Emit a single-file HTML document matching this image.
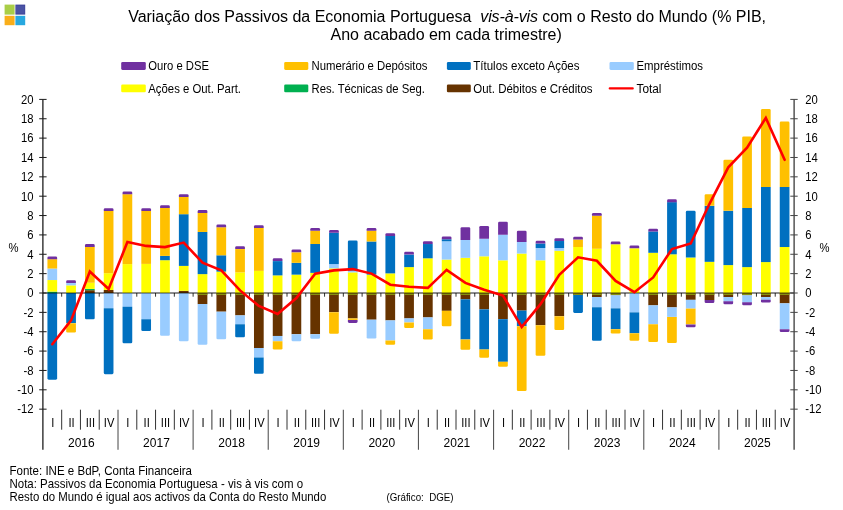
<!DOCTYPE html>
<html lang="pt"><head><meta charset="utf-8"><title>Variação dos Passivos da Economia Portuguesa</title>
<style>
html,body{margin:0;padding:0;background:#fff}
body{width:843px;height:510px;overflow:hidden}
svg{display:block}
text{font-family:"Liberation Sans",Arial,sans-serif;fill:#000}
.t{font-size:16px}
.l{font-size:12.3px}
.a{font-size:12px}
.f{font-size:12.1px}
.g{font-size:10px}
</style></head><body>
<svg width="843" height="510" viewBox="0 0 843 510">
<rect width="843" height="510" fill="#fff"/>
<g><rect x="4.6" y="4.6" width="10" height="10" fill="#A9CE47"/><rect x="15.4" y="4.6" width="9.8" height="10" fill="#3D4199"/><rect x="16" y="5.6" width="8.6" height="8" fill="#4A53A4"/><rect x="4.6" y="15.8" width="10" height="9.4" fill="#F9AE1A"/><rect x="15.4" y="15.8" width="9.8" height="9.4" fill="#27A8E0"/></g>
<text class="t" y="21.7"><tspan x="128.2" textLength="343.2" lengthAdjust="spacing">Variação dos Passivos da Economia Portuguesa</tspan> <tspan x="480.3" font-style="italic" textLength="57.7" lengthAdjust="spacing">vis-à-vis</tspan> <tspan x="542.2" textLength="223.8" lengthAdjust="spacing">com o Resto do Mundo (% PIB,</tspan></text>
<text class="t" x="330.6" y="40.1" textLength="231.2" lengthAdjust="spacing">Ano acabado em cada trimestre)</text>
<rect x="121.2" y="62.1" width="24.6" height="7.8" rx="1.3" fill="#7030A0"/>
<text class="l" x="148.3" y="70.2" textLength="60.7" lengthAdjust="spacingAndGlyphs">Ouro e DSE</text>
<rect x="284.2" y="62.1" width="24.1" height="7.8" rx="1.3" fill="#FFC000"/>
<text class="l" x="311.5" y="70.2" textLength="116.0" lengthAdjust="spacingAndGlyphs">Numerário e Depósitos</text>
<rect x="446.9" y="62.1" width="23.9" height="7.8" rx="1.3" fill="#0070C0"/>
<text class="l" x="473.3" y="70.2" textLength="106.2" lengthAdjust="spacingAndGlyphs">Títulos exceto Ações</text>
<rect x="609.5" y="62.1" width="24.3" height="7.8" rx="1.3" fill="#99CCFF"/>
<text class="l" x="636.5" y="70.2" textLength="66.5" lengthAdjust="spacingAndGlyphs">Empréstimos</text>
<rect x="121.2" y="84.4" width="24.6" height="7.8" rx="1.3" fill="#FFFF00"/>
<text class="l" x="148.3" y="92.5" textLength="92.7" lengthAdjust="spacingAndGlyphs">Ações e Out. Part.</text>
<rect x="284.2" y="84.4" width="24.1" height="7.8" rx="1.3" fill="#00B050"/>
<text class="l" x="311.5" y="92.5" textLength="113.5" lengthAdjust="spacingAndGlyphs">Res. Técnicas de Seg.</text>
<rect x="446.9" y="84.4" width="23.9" height="7.8" rx="1.3" fill="#663300"/>
<text class="l" x="473.3" y="92.5" textLength="119.2" lengthAdjust="spacingAndGlyphs">Out. Débitos e Créditos</text>
<line x1="609.8" y1="88.4" x2="632.7" y2="88.4" stroke="#FF0000" stroke-width="2.3" stroke-linecap="round"/>
<text class="l" x="636.5" y="92.5" textLength="25" lengthAdjust="spacingAndGlyphs">Total</text>
<line x1="42.9" y1="293.0" x2="794.0" y2="293.0" stroke="#000" stroke-opacity="0.6" stroke-width="1.5"/>
<line x1="61.68" y1="293.0" x2="61.68" y2="296.7" stroke="#000" stroke-width="0.8"/>
<line x1="80.45" y1="293.0" x2="80.45" y2="296.7" stroke="#000" stroke-width="0.8"/>
<line x1="99.23" y1="293.0" x2="99.23" y2="296.7" stroke="#000" stroke-width="0.8"/>
<line x1="118.01" y1="293.0" x2="118.01" y2="296.7" stroke="#000" stroke-width="0.8"/>
<line x1="136.79" y1="293.0" x2="136.79" y2="296.7" stroke="#000" stroke-width="0.8"/>
<line x1="155.56" y1="293.0" x2="155.56" y2="296.7" stroke="#000" stroke-width="0.8"/>
<line x1="174.34" y1="293.0" x2="174.34" y2="296.7" stroke="#000" stroke-width="0.8"/>
<line x1="193.12" y1="293.0" x2="193.12" y2="296.7" stroke="#000" stroke-width="0.8"/>
<line x1="211.90" y1="293.0" x2="211.90" y2="296.7" stroke="#000" stroke-width="0.8"/>
<line x1="230.68" y1="293.0" x2="230.68" y2="296.7" stroke="#000" stroke-width="0.8"/>
<line x1="249.45" y1="293.0" x2="249.45" y2="296.7" stroke="#000" stroke-width="0.8"/>
<line x1="268.23" y1="293.0" x2="268.23" y2="296.7" stroke="#000" stroke-width="0.8"/>
<line x1="287.01" y1="293.0" x2="287.01" y2="296.7" stroke="#000" stroke-width="0.8"/>
<line x1="305.78" y1="293.0" x2="305.78" y2="296.7" stroke="#000" stroke-width="0.8"/>
<line x1="324.56" y1="293.0" x2="324.56" y2="296.7" stroke="#000" stroke-width="0.8"/>
<line x1="343.34" y1="293.0" x2="343.34" y2="296.7" stroke="#000" stroke-width="0.8"/>
<line x1="362.12" y1="293.0" x2="362.12" y2="296.7" stroke="#000" stroke-width="0.8"/>
<line x1="380.89" y1="293.0" x2="380.89" y2="296.7" stroke="#000" stroke-width="0.8"/>
<line x1="399.67" y1="293.0" x2="399.67" y2="296.7" stroke="#000" stroke-width="0.8"/>
<line x1="418.45" y1="293.0" x2="418.45" y2="296.7" stroke="#000" stroke-width="0.8"/>
<line x1="437.23" y1="293.0" x2="437.23" y2="296.7" stroke="#000" stroke-width="0.8"/>
<line x1="456.00" y1="293.0" x2="456.00" y2="296.7" stroke="#000" stroke-width="0.8"/>
<line x1="474.78" y1="293.0" x2="474.78" y2="296.7" stroke="#000" stroke-width="0.8"/>
<line x1="493.56" y1="293.0" x2="493.56" y2="296.7" stroke="#000" stroke-width="0.8"/>
<line x1="512.34" y1="293.0" x2="512.34" y2="296.7" stroke="#000" stroke-width="0.8"/>
<line x1="531.12" y1="293.0" x2="531.12" y2="296.7" stroke="#000" stroke-width="0.8"/>
<line x1="549.89" y1="293.0" x2="549.89" y2="296.7" stroke="#000" stroke-width="0.8"/>
<line x1="568.67" y1="293.0" x2="568.67" y2="296.7" stroke="#000" stroke-width="0.8"/>
<line x1="587.45" y1="293.0" x2="587.45" y2="296.7" stroke="#000" stroke-width="0.8"/>
<line x1="606.23" y1="293.0" x2="606.23" y2="296.7" stroke="#000" stroke-width="0.8"/>
<line x1="625.00" y1="293.0" x2="625.00" y2="296.7" stroke="#000" stroke-width="0.8"/>
<line x1="643.78" y1="293.0" x2="643.78" y2="296.7" stroke="#000" stroke-width="0.8"/>
<line x1="662.56" y1="293.0" x2="662.56" y2="296.7" stroke="#000" stroke-width="0.8"/>
<line x1="681.33" y1="293.0" x2="681.33" y2="296.7" stroke="#000" stroke-width="0.8"/>
<line x1="700.11" y1="293.0" x2="700.11" y2="296.7" stroke="#000" stroke-width="0.8"/>
<line x1="718.89" y1="293.0" x2="718.89" y2="296.7" stroke="#000" stroke-width="0.8"/>
<line x1="737.67" y1="293.0" x2="737.67" y2="296.7" stroke="#000" stroke-width="0.8"/>
<line x1="756.44" y1="293.0" x2="756.44" y2="296.7" stroke="#000" stroke-width="0.8"/>
<line x1="775.22" y1="293.0" x2="775.22" y2="296.7" stroke="#000" stroke-width="0.8"/>
<g>
<rect x="47.44" y="291.60" width="9.7" height="1.40" fill="#00B050"/>
<rect x="47.44" y="280.04" width="9.7" height="11.56" fill="#FFFF00"/>
<rect x="47.44" y="268.55" width="9.7" height="11.50" fill="#99CCFF"/>
<rect x="47.44" y="259.20" width="9.7" height="9.35" fill="#FFC000"/>
<path d="M47.44 259.20V257.70Q47.44 256.40 48.74 256.40H55.84Q57.14 256.40 57.14 257.70V259.20Z" fill="#7030A0"/>
<path d="M47.44 293.00V378.35Q47.44 379.65 48.74 379.65H55.84Q57.14 379.65 57.14 378.35V293.00Z" fill="#0070C0"/>
<rect x="47.44" y="292.20" width="9.7" height="1.6" fill="#000" fill-opacity="0.42"/>
<rect x="66.22" y="285.36" width="9.7" height="7.64" fill="#FFFF00"/>
<rect x="66.22" y="283.04" width="9.7" height="2.32" fill="#99CCFF"/>
<path d="M66.22 283.04V281.54Q66.22 280.24 67.52 280.24H74.62Q75.92 280.24 75.92 281.54V283.04Z" fill="#7030A0"/>
<rect x="66.22" y="293.00" width="9.7" height="30.15" fill="#0070C0"/>
<path d="M66.22 323.15V331.15Q66.22 332.45 67.52 332.45H74.62Q75.92 332.45 75.92 331.15V323.15Z" fill="#FFC000"/>
<rect x="66.22" y="292.20" width="9.7" height="1.6" fill="#000" fill-opacity="0.42"/>
<rect x="84.99" y="290.20" width="9.7" height="2.80" fill="#663300"/>
<rect x="84.99" y="288.90" width="9.7" height="1.30" fill="#00B050"/>
<rect x="84.99" y="282.75" width="9.7" height="6.15" fill="#FFFF00"/>
<rect x="84.99" y="246.90" width="9.7" height="35.85" fill="#FFC000"/>
<path d="M84.99 246.90V245.40Q84.99 244.10 86.29 244.10H93.39Q94.69 244.10 94.69 245.40V246.90Z" fill="#7030A0"/>
<path d="M84.99 293.00V318.05Q84.99 319.35 86.29 319.35H93.39Q94.69 319.35 94.69 318.05V293.00Z" fill="#0070C0"/>
<rect x="84.99" y="292.20" width="9.7" height="1.6" fill="#000" fill-opacity="0.42"/>
<rect x="103.77" y="290.00" width="9.7" height="3.00" fill="#663300"/>
<rect x="103.77" y="273.20" width="9.7" height="16.80" fill="#FFFF00"/>
<rect x="103.77" y="211.00" width="9.7" height="62.20" fill="#FFC000"/>
<path d="M103.77 211.00V209.50Q103.77 208.20 105.07 208.20H112.17Q113.47 208.20 113.47 209.50V211.00Z" fill="#7030A0"/>
<rect x="103.77" y="293.00" width="9.7" height="15.15" fill="#99CCFF"/>
<path d="M103.77 308.15V372.85Q103.77 374.15 105.07 374.15H112.17Q113.47 374.15 113.47 372.85V308.15Z" fill="#0070C0"/>
<rect x="103.77" y="292.20" width="9.7" height="1.6" fill="#000" fill-opacity="0.42"/>
<rect x="122.55" y="264.10" width="9.7" height="28.90" fill="#FFFF00"/>
<rect x="122.55" y="194.20" width="9.7" height="69.90" fill="#FFC000"/>
<path d="M122.55 194.20V192.70Q122.55 191.40 123.85 191.40H130.95Q132.25 191.40 132.25 192.70V194.20Z" fill="#7030A0"/>
<rect x="122.55" y="293.00" width="9.7" height="13.85" fill="#99CCFF"/>
<path d="M122.55 306.85V341.95Q122.55 343.25 123.85 343.25H130.95Q132.25 343.25 132.25 341.95V306.85Z" fill="#0070C0"/>
<rect x="122.55" y="292.20" width="9.7" height="1.6" fill="#000" fill-opacity="0.42"/>
<rect x="141.33" y="263.90" width="9.7" height="29.10" fill="#FFFF00"/>
<rect x="141.33" y="211.00" width="9.7" height="52.90" fill="#FFC000"/>
<path d="M141.33 211.00V209.50Q141.33 208.20 142.63 208.20H149.73Q151.03 208.20 151.03 209.50V211.00Z" fill="#7030A0"/>
<rect x="141.33" y="293.00" width="9.7" height="26.35" fill="#99CCFF"/>
<path d="M141.33 319.35V329.65Q141.33 330.95 142.63 330.95H149.73Q151.03 330.95 151.03 329.65V319.35Z" fill="#0070C0"/>
<rect x="141.33" y="292.20" width="9.7" height="1.6" fill="#000" fill-opacity="0.42"/>
<rect x="160.10" y="260.20" width="9.7" height="32.80" fill="#FFFF00"/>
<rect x="160.10" y="255.90" width="9.7" height="4.30" fill="#0070C0"/>
<rect x="160.10" y="208.00" width="9.7" height="47.90" fill="#FFC000"/>
<path d="M160.10 208.00V206.50Q160.10 205.20 161.40 205.20H168.50Q169.80 205.20 169.80 206.50V208.00Z" fill="#7030A0"/>
<path d="M160.10 293.00V334.45Q160.10 335.75 161.40 335.75H168.50Q169.80 335.75 169.80 334.45V293.00Z" fill="#99CCFF"/>
<rect x="160.10" y="292.20" width="9.7" height="1.6" fill="#000" fill-opacity="0.42"/>
<rect x="178.88" y="290.80" width="9.7" height="2.20" fill="#663300"/>
<rect x="178.88" y="265.90" width="9.7" height="24.90" fill="#FFFF00"/>
<rect x="178.88" y="214.20" width="9.7" height="51.70" fill="#0070C0"/>
<rect x="178.88" y="197.00" width="9.7" height="17.20" fill="#FFC000"/>
<path d="M178.88 197.00V195.50Q178.88 194.20 180.18 194.20H187.28Q188.58 194.20 188.58 195.50V197.00Z" fill="#7030A0"/>
<path d="M178.88 293.00V339.95Q178.88 341.25 180.18 341.25H187.28Q188.58 341.25 188.58 339.95V293.00Z" fill="#99CCFF"/>
<rect x="178.88" y="292.20" width="9.7" height="1.6" fill="#000" fill-opacity="0.42"/>
<rect x="197.66" y="274.13" width="9.7" height="18.87" fill="#FFFF00"/>
<rect x="197.66" y="231.96" width="9.7" height="42.17" fill="#0070C0"/>
<rect x="197.66" y="212.92" width="9.7" height="19.04" fill="#FFC000"/>
<path d="M197.66 212.92V211.42Q197.66 210.12 198.96 210.12H206.06Q207.36 210.12 207.36 211.42V212.92Z" fill="#7030A0"/>
<rect x="197.66" y="293.00" width="9.7" height="11.10" fill="#663300"/>
<path d="M197.66 304.10V343.46Q197.66 344.76 198.96 344.76H206.06Q207.36 344.76 207.36 343.46V304.10Z" fill="#99CCFF"/>
<rect x="197.66" y="292.20" width="9.7" height="1.6" fill="#000" fill-opacity="0.42"/>
<rect x="197.66" y="293.60" width="9.7" height="1.3" fill="#8A9C12"/>
<rect x="216.44" y="271.62" width="9.7" height="21.38" fill="#FFFF00"/>
<rect x="216.44" y="255.30" width="9.7" height="16.32" fill="#0070C0"/>
<rect x="216.44" y="227.23" width="9.7" height="28.07" fill="#FFC000"/>
<path d="M216.44 227.23V225.73Q216.44 224.43 217.74 224.43H224.84Q226.14 224.43 226.14 225.73V227.23Z" fill="#7030A0"/>
<rect x="216.44" y="293.00" width="9.7" height="18.63" fill="#663300"/>
<path d="M216.44 311.63V337.94Q216.44 339.24 217.74 339.24H224.84Q226.14 339.24 226.14 337.94V311.63Z" fill="#99CCFF"/>
<rect x="216.44" y="292.20" width="9.7" height="1.6" fill="#000" fill-opacity="0.42"/>
<rect x="216.44" y="293.60" width="9.7" height="1.3" fill="#8A9C12"/>
<rect x="235.21" y="272.37" width="9.7" height="20.63" fill="#FFFF00"/>
<rect x="235.21" y="249.07" width="9.7" height="23.30" fill="#FFC000"/>
<path d="M235.21 249.07V247.57Q235.21 246.27 236.51 246.27H243.61Q244.91 246.27 244.91 247.57V249.07Z" fill="#7030A0"/>
<rect x="235.21" y="293.00" width="9.7" height="22.39" fill="#663300"/>
<rect x="235.21" y="315.39" width="9.7" height="8.79" fill="#99CCFF"/>
<path d="M235.21 324.18V335.93Q235.21 337.23 236.51 337.23H243.61Q244.91 337.23 244.91 335.93V324.18Z" fill="#0070C0"/>
<rect x="235.21" y="292.20" width="9.7" height="1.6" fill="#000" fill-opacity="0.42"/>
<rect x="235.21" y="293.60" width="9.7" height="1.3" fill="#8A9C12"/>
<rect x="253.99" y="270.86" width="9.7" height="22.14" fill="#FFFF00"/>
<rect x="253.99" y="227.98" width="9.7" height="42.88" fill="#FFC000"/>
<path d="M253.99 227.98V226.48Q253.99 225.18 255.29 225.18H262.39Q263.69 225.18 263.69 226.48V227.98Z" fill="#7030A0"/>
<rect x="253.99" y="293.00" width="9.7" height="55.02" fill="#663300"/>
<rect x="253.99" y="348.02" width="9.7" height="9.54" fill="#99CCFF"/>
<path d="M253.99 357.56V372.57Q253.99 373.87 255.29 373.87H262.39Q263.69 373.87 263.69 372.57V357.56Z" fill="#0070C0"/>
<rect x="253.99" y="292.20" width="9.7" height="1.6" fill="#000" fill-opacity="0.42"/>
<rect x="253.99" y="293.60" width="9.7" height="1.3" fill="#8A9C12"/>
<rect x="272.77" y="275.38" width="9.7" height="17.62" fill="#FFFF00"/>
<rect x="272.77" y="261.11" width="9.7" height="14.27" fill="#0070C0"/>
<path d="M272.77 261.11V259.61Q272.77 258.31 274.07 258.31H281.17Q282.47 258.31 282.47 259.61V261.11Z" fill="#7030A0"/>
<rect x="272.77" y="293.00" width="9.7" height="42.97" fill="#663300"/>
<rect x="272.77" y="335.97" width="9.7" height="5.27" fill="#99CCFF"/>
<path d="M272.77 341.24V348.23Q272.77 349.53 274.07 349.53H281.17Q282.47 349.53 282.47 348.23V341.24Z" fill="#FFC000"/>
<rect x="272.77" y="292.20" width="9.7" height="1.6" fill="#000" fill-opacity="0.42"/>
<rect x="272.77" y="293.60" width="9.7" height="1.3" fill="#8A9C12"/>
<rect x="291.55" y="274.63" width="9.7" height="18.37" fill="#FFFF00"/>
<rect x="291.55" y="262.83" width="9.7" height="11.80" fill="#0070C0"/>
<rect x="291.55" y="252.33" width="9.7" height="10.50" fill="#FFC000"/>
<path d="M291.55 252.33V250.83Q291.55 249.53 292.85 249.53H299.95Q301.25 249.53 301.25 250.83V252.33Z" fill="#7030A0"/>
<rect x="291.55" y="293.00" width="9.7" height="41.22" fill="#663300"/>
<path d="M291.55 334.22V339.94Q291.55 341.24 292.85 341.24H299.95Q301.25 341.24 301.25 339.94V334.22Z" fill="#99CCFF"/>
<rect x="291.55" y="292.20" width="9.7" height="1.6" fill="#000" fill-opacity="0.42"/>
<rect x="291.55" y="293.60" width="9.7" height="1.3" fill="#8A9C12"/>
<rect x="310.32" y="272.87" width="9.7" height="20.13" fill="#FFFF00"/>
<rect x="310.32" y="244.01" width="9.7" height="28.87" fill="#0070C0"/>
<rect x="310.32" y="230.74" width="9.7" height="13.26" fill="#FFC000"/>
<path d="M310.32 230.74V229.24Q310.32 227.94 311.62 227.94H318.72Q320.02 227.94 320.02 229.24V230.74Z" fill="#7030A0"/>
<rect x="310.32" y="293.00" width="9.7" height="41.22" fill="#663300"/>
<path d="M310.32 334.22V337.43Q310.32 338.73 311.62 338.73H318.72Q320.02 338.73 320.02 337.43V334.22Z" fill="#99CCFF"/>
<rect x="310.32" y="292.20" width="9.7" height="1.6" fill="#000" fill-opacity="0.42"/>
<rect x="310.32" y="293.60" width="9.7" height="1.3" fill="#8A9C12"/>
<rect x="329.10" y="268.35" width="9.7" height="24.65" fill="#FFFF00"/>
<rect x="329.10" y="264.09" width="9.7" height="4.27" fill="#99CCFF"/>
<rect x="329.10" y="232.75" width="9.7" height="31.34" fill="#0070C0"/>
<path d="M329.10 232.75V231.25Q329.10 229.95 330.40 229.95H337.50Q338.80 229.95 338.80 231.25V232.75Z" fill="#7030A0"/>
<rect x="329.10" y="293.00" width="9.7" height="19.13" fill="#663300"/>
<path d="M329.10 312.13V332.41Q329.10 333.71 330.40 333.71H337.50Q338.80 333.71 338.80 332.41V312.13Z" fill="#FFC000"/>
<rect x="329.10" y="292.20" width="9.7" height="1.6" fill="#000" fill-opacity="0.42"/>
<rect x="329.10" y="293.60" width="9.7" height="1.3" fill="#8A9C12"/>
<rect x="347.88" y="272.37" width="9.7" height="20.63" fill="#FFFF00"/>
<rect x="347.88" y="270.86" width="9.7" height="1.51" fill="#99CCFF"/>
<path d="M347.88 270.86V241.79Q347.88 240.49 349.18 240.49H356.28Q357.58 240.49 357.58 241.79V270.86Z" fill="#0070C0"/>
<rect x="347.88" y="293.00" width="9.7" height="25.40" fill="#663300"/>
<rect x="347.88" y="318.40" width="9.7" height="1.51" fill="#FFC000"/>
<path d="M347.88 319.91V321.62Q347.88 322.92 349.18 322.92H356.28Q357.58 322.92 357.58 321.62V319.91Z" fill="#7030A0"/>
<rect x="347.88" y="292.20" width="9.7" height="1.6" fill="#000" fill-opacity="0.42"/>
<rect x="347.88" y="293.60" width="9.7" height="1.3" fill="#8A9C12"/>
<rect x="366.66" y="274.63" width="9.7" height="18.37" fill="#FFFF00"/>
<rect x="366.66" y="241.50" width="9.7" height="33.13" fill="#0070C0"/>
<rect x="366.66" y="230.74" width="9.7" height="10.75" fill="#FFC000"/>
<path d="M366.66 230.74V229.24Q366.66 227.94 367.96 227.94H375.06Q376.36 227.94 376.36 229.24V230.74Z" fill="#7030A0"/>
<rect x="366.66" y="293.00" width="9.7" height="26.66" fill="#663300"/>
<path d="M366.66 319.66V337.18Q366.66 338.48 367.96 338.48H375.06Q376.36 338.48 376.36 337.18V319.66Z" fill="#99CCFF"/>
<rect x="366.66" y="292.20" width="9.7" height="1.6" fill="#000" fill-opacity="0.42"/>
<rect x="366.66" y="293.60" width="9.7" height="1.3" fill="#8A9C12"/>
<rect x="385.43" y="273.37" width="9.7" height="19.63" fill="#FFFF00"/>
<rect x="385.43" y="236.01" width="9.7" height="37.36" fill="#0070C0"/>
<path d="M385.43 236.01V234.51Q385.43 233.21 386.73 233.21H393.83Q395.13 233.21 395.13 234.51V236.01Z" fill="#7030A0"/>
<rect x="385.43" y="293.00" width="9.7" height="27.41" fill="#663300"/>
<rect x="385.43" y="320.41" width="9.7" height="20.08" fill="#99CCFF"/>
<path d="M385.43 340.49V343.46Q385.43 344.76 386.73 344.76H393.83Q395.13 344.76 395.13 343.46V340.49Z" fill="#FFC000"/>
<rect x="385.43" y="292.20" width="9.7" height="1.6" fill="#000" fill-opacity="0.42"/>
<rect x="385.43" y="293.60" width="9.7" height="1.3" fill="#8A9C12"/>
<rect x="404.21" y="267.10" width="9.7" height="25.90" fill="#FFFF00"/>
<rect x="404.21" y="254.59" width="9.7" height="12.51" fill="#0070C0"/>
<path d="M404.21 254.59V253.09Q404.21 251.79 405.51 251.79H412.61Q413.91 251.79 413.91 253.09V254.59Z" fill="#7030A0"/>
<rect x="404.21" y="293.00" width="9.7" height="25.40" fill="#663300"/>
<rect x="404.21" y="318.40" width="9.7" height="4.02" fill="#99CCFF"/>
<path d="M404.21 322.42V326.64Q404.21 327.94 405.51 327.94H412.61Q413.91 327.94 413.91 326.64V322.42Z" fill="#FFC000"/>
<rect x="404.21" y="292.20" width="9.7" height="1.6" fill="#000" fill-opacity="0.42"/>
<rect x="404.21" y="293.60" width="9.7" height="1.3" fill="#8A9C12"/>
<rect x="422.99" y="258.31" width="9.7" height="34.69" fill="#FFFF00"/>
<rect x="422.99" y="244.04" width="9.7" height="14.27" fill="#0070C0"/>
<path d="M422.99 244.04V242.54Q422.99 241.24 424.29 241.24H431.39Q432.69 241.24 432.69 242.54V244.04Z" fill="#7030A0"/>
<rect x="422.99" y="293.00" width="9.7" height="24.40" fill="#663300"/>
<rect x="422.99" y="317.40" width="9.7" height="11.80" fill="#99CCFF"/>
<path d="M422.99 329.20V338.19Q422.99 339.49 424.29 339.49H431.39Q432.69 339.49 432.69 338.19V329.20Z" fill="#FFC000"/>
<rect x="422.99" y="292.20" width="9.7" height="1.6" fill="#000" fill-opacity="0.42"/>
<rect x="422.99" y="293.60" width="9.7" height="1.3" fill="#8A9C12"/>
<rect x="441.77" y="259.57" width="9.7" height="33.43" fill="#FFFF00"/>
<rect x="441.77" y="241.24" width="9.7" height="18.32" fill="#99CCFF"/>
<rect x="441.77" y="239.28" width="9.7" height="1.97" fill="#0070C0"/>
<path d="M441.77 239.28V237.78Q441.77 236.48 443.07 236.48H450.17Q451.47 236.48 451.47 237.78V239.28Z" fill="#7030A0"/>
<rect x="441.77" y="293.00" width="9.7" height="17.87" fill="#663300"/>
<path d="M441.77 310.87V324.88Q441.77 326.18 443.07 326.18H450.17Q451.47 326.18 451.47 324.88V310.87Z" fill="#FFC000"/>
<rect x="441.77" y="292.20" width="9.7" height="1.6" fill="#000" fill-opacity="0.42"/>
<rect x="441.77" y="293.60" width="9.7" height="1.3" fill="#8A9C12"/>
<rect x="460.54" y="257.81" width="9.7" height="35.19" fill="#FFFF00"/>
<rect x="460.54" y="239.99" width="9.7" height="17.82" fill="#99CCFF"/>
<path d="M460.54 239.99V228.49Q460.54 227.19 461.84 227.19H468.94Q470.24 227.19 470.24 228.49V239.99Z" fill="#7030A0"/>
<rect x="460.54" y="293.00" width="9.7" height="6.33" fill="#663300"/>
<rect x="460.54" y="299.33" width="9.7" height="40.16" fill="#0070C0"/>
<path d="M460.54 339.49V348.48Q460.54 349.78 461.84 349.78H468.94Q470.24 349.78 470.24 348.48V339.49Z" fill="#FFC000"/>
<rect x="460.54" y="292.20" width="9.7" height="1.6" fill="#000" fill-opacity="0.42"/>
<rect x="460.54" y="293.60" width="9.7" height="1.3" fill="#8A9C12"/>
<rect x="479.32" y="256.31" width="9.7" height="36.69" fill="#FFFF00"/>
<rect x="479.32" y="238.73" width="9.7" height="17.57" fill="#99CCFF"/>
<path d="M479.32 238.73V227.23Q479.32 225.93 480.62 225.93H487.72Q489.02 225.93 489.02 227.23V238.73Z" fill="#7030A0"/>
<rect x="479.32" y="293.00" width="9.7" height="16.37" fill="#663300"/>
<rect x="479.32" y="309.37" width="9.7" height="40.16" fill="#0070C0"/>
<path d="M479.32 349.53V356.51Q479.32 357.81 480.62 357.81H487.72Q489.02 357.81 489.02 356.51V349.53Z" fill="#FFC000"/>
<rect x="479.32" y="292.20" width="9.7" height="1.6" fill="#000" fill-opacity="0.42"/>
<rect x="479.32" y="293.60" width="9.7" height="1.3" fill="#8A9C12"/>
<rect x="498.10" y="260.32" width="9.7" height="32.68" fill="#FFFF00"/>
<rect x="498.10" y="234.72" width="9.7" height="25.60" fill="#99CCFF"/>
<path d="M498.10 234.72V222.97Q498.10 221.67 499.40 221.67H506.50Q507.80 221.67 507.80 222.97V234.72Z" fill="#7030A0"/>
<rect x="498.10" y="293.00" width="9.7" height="26.16" fill="#663300"/>
<rect x="498.10" y="319.16" width="9.7" height="42.67" fill="#0070C0"/>
<path d="M498.10 361.83V365.55Q498.10 366.85 499.40 366.85H506.50Q507.80 366.85 507.80 365.55V361.83Z" fill="#FFC000"/>
<rect x="498.10" y="292.20" width="9.7" height="1.6" fill="#000" fill-opacity="0.42"/>
<rect x="498.10" y="293.60" width="9.7" height="1.3" fill="#8A9C12"/>
<rect x="516.88" y="253.54" width="9.7" height="39.46" fill="#FFFF00"/>
<rect x="516.88" y="242.00" width="9.7" height="11.55" fill="#99CCFF"/>
<path d="M516.88 242.00V232.00Q516.88 230.70 518.18 230.70H525.28Q526.58 230.70 526.58 232.00V242.00Z" fill="#7030A0"/>
<rect x="516.88" y="293.00" width="9.7" height="17.62" fill="#663300"/>
<rect x="516.88" y="310.62" width="9.7" height="15.56" fill="#0070C0"/>
<path d="M516.88 326.18V389.64Q516.88 390.94 518.18 390.94H525.28Q526.58 390.94 526.58 389.64V326.18Z" fill="#FFC000"/>
<rect x="516.88" y="292.20" width="9.7" height="1.6" fill="#000" fill-opacity="0.42"/>
<rect x="516.88" y="293.60" width="9.7" height="1.3" fill="#8A9C12"/>
<rect x="535.65" y="260.32" width="9.7" height="32.68" fill="#FFFF00"/>
<rect x="535.65" y="248.02" width="9.7" height="12.30" fill="#99CCFF"/>
<rect x="535.65" y="243.54" width="9.7" height="4.48" fill="#0070C0"/>
<path d="M535.65 243.54V242.04Q535.65 240.74 536.95 240.74H544.05Q545.35 240.74 545.35 242.04V243.54Z" fill="#7030A0"/>
<rect x="535.65" y="293.00" width="9.7" height="32.18" fill="#663300"/>
<path d="M535.65 325.18V354.50Q535.65 355.80 536.95 355.80H544.05Q545.35 355.80 545.35 354.50V325.18Z" fill="#FFC000"/>
<rect x="535.65" y="292.20" width="9.7" height="1.6" fill="#000" fill-opacity="0.42"/>
<rect x="535.65" y="293.60" width="9.7" height="1.3" fill="#8A9C12"/>
<rect x="554.43" y="250.78" width="9.7" height="42.22" fill="#FFFF00"/>
<rect x="554.43" y="248.02" width="9.7" height="2.76" fill="#99CCFF"/>
<rect x="554.43" y="241.03" width="9.7" height="6.99" fill="#0070C0"/>
<path d="M554.43 241.03V239.53Q554.43 238.23 555.73 238.23H562.83Q564.13 238.23 564.13 239.53V241.03Z" fill="#7030A0"/>
<rect x="554.43" y="293.00" width="9.7" height="23.14" fill="#663300"/>
<path d="M554.43 316.14V328.65Q554.43 329.95 555.73 329.95H562.83Q564.13 329.95 564.13 328.65V316.14Z" fill="#FFC000"/>
<rect x="554.43" y="292.20" width="9.7" height="1.6" fill="#000" fill-opacity="0.42"/>
<rect x="554.43" y="293.60" width="9.7" height="1.3" fill="#8A9C12"/>
<rect x="573.21" y="247.02" width="9.7" height="45.98" fill="#FFFF00"/>
<rect x="573.21" y="239.53" width="9.7" height="7.49" fill="#FFC000"/>
<path d="M573.21 239.53V238.03Q573.21 236.73 574.51 236.73H581.61Q582.91 236.73 582.91 238.03V239.53Z" fill="#7030A0"/>
<rect x="573.21" y="293.00" width="9.7" height="2.06" fill="#663300"/>
<path d="M573.21 295.06V311.58Q573.21 312.88 574.51 312.88H581.61Q582.91 312.88 582.91 311.58V295.06Z" fill="#0070C0"/>
<rect x="573.21" y="292.20" width="9.7" height="1.6" fill="#000" fill-opacity="0.42"/>
<rect x="573.21" y="293.60" width="9.7" height="1.3" fill="#8A9C12"/>
<rect x="591.99" y="248.78" width="9.7" height="44.22" fill="#FFFF00"/>
<rect x="591.99" y="215.68" width="9.7" height="33.09" fill="#FFC000"/>
<path d="M591.99 215.68V214.18Q591.99 212.88 593.29 212.88H600.39Q601.69 212.88 601.69 214.18V215.68Z" fill="#7030A0"/>
<rect x="591.99" y="293.00" width="9.7" height="4.07" fill="#663300"/>
<rect x="591.99" y="297.07" width="9.7" height="10.29" fill="#99CCFF"/>
<path d="M591.99 307.36V339.44Q591.99 340.74 593.29 340.74H600.39Q601.69 340.74 601.69 339.44V307.36Z" fill="#0070C0"/>
<rect x="591.99" y="292.20" width="9.7" height="1.6" fill="#000" fill-opacity="0.42"/>
<rect x="591.99" y="293.60" width="9.7" height="1.3" fill="#8A9C12"/>
<rect x="610.76" y="244.30" width="9.7" height="48.70" fill="#FFFF00"/>
<path d="M610.76 244.30V242.80Q610.76 241.50 612.06 241.50H619.16Q620.46 241.50 620.46 242.80V244.30Z" fill="#7030A0"/>
<rect x="610.76" y="293.00" width="9.7" height="2.31" fill="#663300"/>
<rect x="610.76" y="295.31" width="9.7" height="13.05" fill="#99CCFF"/>
<rect x="610.76" y="308.36" width="9.7" height="20.83" fill="#0070C0"/>
<path d="M610.76 329.20V332.16Q610.76 333.46 612.06 333.46H619.16Q620.46 333.46 620.46 332.16V329.20Z" fill="#FFC000"/>
<rect x="610.76" y="292.20" width="9.7" height="1.6" fill="#000" fill-opacity="0.42"/>
<rect x="610.76" y="293.60" width="9.7" height="1.3" fill="#8A9C12"/>
<rect x="629.54" y="248.31" width="9.7" height="44.69" fill="#FFFF00"/>
<path d="M629.54 248.31V246.81Q629.54 245.51 630.84 245.51H637.94Q639.24 245.51 639.24 246.81V248.31Z" fill="#7030A0"/>
<rect x="629.54" y="293.00" width="9.7" height="19.38" fill="#99CCFF"/>
<rect x="629.54" y="312.38" width="9.7" height="20.83" fill="#0070C0"/>
<path d="M629.54 333.21V339.44Q629.54 340.74 630.84 340.74H637.94Q639.24 340.74 639.24 339.44V333.21Z" fill="#FFC000"/>
<rect x="629.54" y="292.20" width="9.7" height="1.6" fill="#000" fill-opacity="0.42"/>
<rect x="648.32" y="252.79" width="9.7" height="40.21" fill="#FFFF00"/>
<rect x="648.32" y="231.49" width="9.7" height="21.30" fill="#0070C0"/>
<path d="M648.32 231.49V229.99Q648.32 228.69 649.62 228.69H656.72Q658.02 228.69 658.02 229.99V231.49Z" fill="#7030A0"/>
<rect x="648.32" y="293.00" width="9.7" height="12.35" fill="#663300"/>
<rect x="648.32" y="305.35" width="9.7" height="18.83" fill="#99CCFF"/>
<path d="M648.32 324.18V340.70Q648.32 342.00 649.62 342.00H656.72Q658.02 342.00 658.02 340.70V324.18Z" fill="#FFC000"/>
<rect x="648.32" y="292.20" width="9.7" height="1.6" fill="#000" fill-opacity="0.42"/>
<rect x="648.32" y="293.60" width="9.7" height="1.3" fill="#8A9C12"/>
<rect x="667.10" y="254.30" width="9.7" height="38.70" fill="#FFFF00"/>
<rect x="667.10" y="202.13" width="9.7" height="52.17" fill="#0070C0"/>
<path d="M667.10 202.13V200.63Q667.10 199.33 668.40 199.33H675.50Q676.80 199.33 676.80 200.63V202.13Z" fill="#7030A0"/>
<rect x="667.10" y="293.00" width="9.7" height="14.36" fill="#663300"/>
<rect x="667.10" y="307.36" width="9.7" height="9.54" fill="#99CCFF"/>
<path d="M667.10 316.90V341.70Q667.10 343.00 668.40 343.00H675.50Q676.80 343.00 676.80 341.70V316.90Z" fill="#FFC000"/>
<rect x="667.10" y="292.20" width="9.7" height="1.6" fill="#000" fill-opacity="0.42"/>
<rect x="667.10" y="293.60" width="9.7" height="1.3" fill="#8A9C12"/>
<rect x="685.87" y="257.56" width="9.7" height="35.44" fill="#FFFF00"/>
<path d="M685.87 257.56V212.17Q685.87 210.87 687.17 210.87H694.27Q695.57 210.87 695.57 212.17V257.56Z" fill="#0070C0"/>
<rect x="685.87" y="293.00" width="9.7" height="6.83" fill="#663300"/>
<rect x="685.87" y="299.83" width="9.7" height="8.79" fill="#99CCFF"/>
<rect x="685.87" y="308.61" width="9.7" height="15.81" fill="#FFC000"/>
<path d="M685.87 324.43V325.89Q685.87 327.19 687.17 327.19H694.27Q695.57 327.19 695.57 325.89V324.43Z" fill="#7030A0"/>
<rect x="685.87" y="292.20" width="9.7" height="1.6" fill="#000" fill-opacity="0.42"/>
<rect x="685.87" y="293.60" width="9.7" height="1.3" fill="#8A9C12"/>
<rect x="704.65" y="261.83" width="9.7" height="31.17" fill="#FFFF00"/>
<rect x="704.65" y="205.85" width="9.7" height="55.97" fill="#0070C0"/>
<path d="M704.65 205.85V195.61Q704.65 194.31 705.95 194.31H713.05Q714.35 194.31 714.35 195.61V205.85Z" fill="#FFC000"/>
<rect x="704.65" y="293.00" width="9.7" height="7.08" fill="#663300"/>
<path d="M704.65 300.08V301.79Q704.65 303.09 705.95 303.09H713.05Q714.35 303.09 714.35 301.79V300.08Z" fill="#7030A0"/>
<rect x="704.65" y="292.20" width="9.7" height="1.6" fill="#000" fill-opacity="0.42"/>
<rect x="704.65" y="293.60" width="9.7" height="1.3" fill="#8A9C12"/>
<rect x="723.43" y="265.09" width="9.7" height="27.91" fill="#FFFF00"/>
<rect x="723.43" y="210.80" width="9.7" height="54.29" fill="#0070C0"/>
<path d="M723.43 210.80V161.10Q723.43 159.80 724.73 159.80H731.83Q733.13 159.80 733.13 161.10V210.80Z" fill="#FFC000"/>
<rect x="723.43" y="293.00" width="9.7" height="4.07" fill="#663300"/>
<rect x="723.43" y="297.07" width="9.7" height="4.27" fill="#99CCFF"/>
<path d="M723.43 301.33V303.05Q723.43 304.35 724.73 304.35H731.83Q733.13 304.35 733.13 303.05V301.33Z" fill="#7030A0"/>
<rect x="723.43" y="292.20" width="9.7" height="1.6" fill="#000" fill-opacity="0.42"/>
<rect x="723.43" y="293.60" width="9.7" height="1.3" fill="#8A9C12"/>
<rect x="742.21" y="267.10" width="9.7" height="25.90" fill="#FFFF00"/>
<rect x="742.21" y="208.00" width="9.7" height="59.10" fill="#0070C0"/>
<path d="M742.21 208.00V137.70Q742.21 136.40 743.51 136.40H750.61Q751.91 136.40 751.91 137.70V208.00Z" fill="#FFC000"/>
<rect x="742.21" y="293.00" width="9.7" height="2.31" fill="#663300"/>
<rect x="742.21" y="295.31" width="9.7" height="7.03" fill="#99CCFF"/>
<path d="M742.21 302.34V304.05Q742.21 305.35 743.51 305.35H750.61Q751.91 305.35 751.91 304.05V302.34Z" fill="#7030A0"/>
<rect x="742.21" y="292.20" width="9.7" height="1.6" fill="#000" fill-opacity="0.42"/>
<rect x="742.21" y="293.60" width="9.7" height="1.3" fill="#8A9C12"/>
<rect x="760.98" y="262.08" width="9.7" height="30.92" fill="#FFFF00"/>
<rect x="760.98" y="187.00" width="9.7" height="75.08" fill="#0070C0"/>
<path d="M760.98 187.00V110.40Q760.98 109.10 762.28 109.10H769.38Q770.68 109.10 770.68 110.40V187.00Z" fill="#FFC000"/>
<rect x="760.98" y="293.00" width="9.7" height="4.07" fill="#663300"/>
<rect x="760.98" y="297.07" width="9.7" height="2.76" fill="#99CCFF"/>
<path d="M760.98 299.83V301.29Q760.98 302.59 762.28 302.59H769.38Q770.68 302.59 770.68 301.29V299.83Z" fill="#7030A0"/>
<rect x="760.98" y="292.20" width="9.7" height="1.6" fill="#000" fill-opacity="0.42"/>
<rect x="760.98" y="293.60" width="9.7" height="1.3" fill="#8A9C12"/>
<rect x="779.76" y="247.02" width="9.7" height="45.98" fill="#FFFF00"/>
<rect x="779.76" y="187.00" width="9.7" height="60.02" fill="#0070C0"/>
<path d="M779.76 187.00V122.90Q779.76 121.60 781.06 121.60H788.16Q789.46 121.60 789.46 122.90V187.00Z" fill="#FFC000"/>
<rect x="779.76" y="293.00" width="9.7" height="10.34" fill="#663300"/>
<rect x="779.76" y="303.34" width="9.7" height="25.85" fill="#99CCFF"/>
<path d="M779.76 329.20V330.66Q779.76 331.96 781.06 331.96H788.16Q789.46 331.96 789.46 330.66V329.20Z" fill="#7030A0"/>
<rect x="779.76" y="292.20" width="9.7" height="1.6" fill="#000" fill-opacity="0.42"/>
<rect x="779.76" y="293.60" width="9.7" height="1.3" fill="#8A9C12"/>
</g>
<line x1="42.9" y1="99.5" x2="42.9" y2="449.8" stroke="#000" stroke-width="1.15"/>
<line x1="794.1" y1="99.5" x2="794.1" y2="449.8" stroke="#2a2a2a" stroke-width="1.2"/>
<line x1="39.2" y1="99.40" x2="46.6" y2="99.40" stroke="#1a1a1a" stroke-width="1"/>
<line x1="790.3" y1="99.40" x2="797.7" y2="99.40" stroke="#444" stroke-width="1"/>
<text class="a" transform="translate(33.5 103.70) scale(0.94 1)" text-anchor="end">20</text>
<text class="a" transform="translate(805.2 103.70) scale(0.94 1)">20</text>
<line x1="39.2" y1="118.76" x2="46.6" y2="118.76" stroke="#1a1a1a" stroke-width="1"/>
<line x1="790.3" y1="118.76" x2="797.7" y2="118.76" stroke="#444" stroke-width="1"/>
<text class="a" transform="translate(33.5 123.06) scale(0.94 1)" text-anchor="end">18</text>
<text class="a" transform="translate(805.2 123.06) scale(0.94 1)">18</text>
<line x1="39.2" y1="138.12" x2="46.6" y2="138.12" stroke="#1a1a1a" stroke-width="1"/>
<line x1="790.3" y1="138.12" x2="797.7" y2="138.12" stroke="#444" stroke-width="1"/>
<text class="a" transform="translate(33.5 142.42) scale(0.94 1)" text-anchor="end">16</text>
<text class="a" transform="translate(805.2 142.42) scale(0.94 1)">16</text>
<line x1="39.2" y1="157.48" x2="46.6" y2="157.48" stroke="#1a1a1a" stroke-width="1"/>
<line x1="790.3" y1="157.48" x2="797.7" y2="157.48" stroke="#444" stroke-width="1"/>
<text class="a" transform="translate(33.5 161.78) scale(0.94 1)" text-anchor="end">14</text>
<text class="a" transform="translate(805.2 161.78) scale(0.94 1)">14</text>
<line x1="39.2" y1="176.84" x2="46.6" y2="176.84" stroke="#1a1a1a" stroke-width="1"/>
<line x1="790.3" y1="176.84" x2="797.7" y2="176.84" stroke="#444" stroke-width="1"/>
<text class="a" transform="translate(33.5 181.14) scale(0.94 1)" text-anchor="end">12</text>
<text class="a" transform="translate(805.2 181.14) scale(0.94 1)">12</text>
<line x1="39.2" y1="196.20" x2="46.6" y2="196.20" stroke="#1a1a1a" stroke-width="1"/>
<line x1="790.3" y1="196.20" x2="797.7" y2="196.20" stroke="#444" stroke-width="1"/>
<text class="a" transform="translate(33.5 200.50) scale(0.94 1)" text-anchor="end">10</text>
<text class="a" transform="translate(805.2 200.50) scale(0.94 1)">10</text>
<line x1="39.2" y1="215.56" x2="46.6" y2="215.56" stroke="#1a1a1a" stroke-width="1"/>
<line x1="790.3" y1="215.56" x2="797.7" y2="215.56" stroke="#444" stroke-width="1"/>
<text class="a" transform="translate(33.5 219.86) scale(0.94 1)" text-anchor="end">8</text>
<text class="a" transform="translate(805.2 219.86) scale(0.94 1)">8</text>
<line x1="39.2" y1="234.92" x2="46.6" y2="234.92" stroke="#1a1a1a" stroke-width="1"/>
<line x1="790.3" y1="234.92" x2="797.7" y2="234.92" stroke="#444" stroke-width="1"/>
<text class="a" transform="translate(33.5 239.22) scale(0.94 1)" text-anchor="end">6</text>
<text class="a" transform="translate(805.2 239.22) scale(0.94 1)">6</text>
<line x1="39.2" y1="254.28" x2="46.6" y2="254.28" stroke="#1a1a1a" stroke-width="1"/>
<line x1="790.3" y1="254.28" x2="797.7" y2="254.28" stroke="#444" stroke-width="1"/>
<text class="a" transform="translate(33.5 258.58) scale(0.94 1)" text-anchor="end">4</text>
<text class="a" transform="translate(805.2 258.58) scale(0.94 1)">4</text>
<line x1="39.2" y1="273.64" x2="46.6" y2="273.64" stroke="#1a1a1a" stroke-width="1"/>
<line x1="790.3" y1="273.64" x2="797.7" y2="273.64" stroke="#444" stroke-width="1"/>
<text class="a" transform="translate(33.5 277.94) scale(0.94 1)" text-anchor="end">2</text>
<text class="a" transform="translate(805.2 277.94) scale(0.94 1)">2</text>
<line x1="39.2" y1="293.00" x2="46.6" y2="293.00" stroke="#1a1a1a" stroke-width="1"/>
<line x1="790.3" y1="293.00" x2="797.7" y2="293.00" stroke="#444" stroke-width="1"/>
<text class="a" transform="translate(33.5 297.30) scale(0.94 1)" text-anchor="end">0</text>
<text class="a" transform="translate(805.2 297.30) scale(0.94 1)">0</text>
<line x1="39.2" y1="312.36" x2="46.6" y2="312.36" stroke="#1a1a1a" stroke-width="1"/>
<line x1="790.3" y1="312.36" x2="797.7" y2="312.36" stroke="#444" stroke-width="1"/>
<text class="a" transform="translate(33.5 316.66) scale(0.94 1)" text-anchor="end">-2</text>
<text class="a" transform="translate(805.2 316.66) scale(0.94 1)">-2</text>
<line x1="39.2" y1="331.72" x2="46.6" y2="331.72" stroke="#1a1a1a" stroke-width="1"/>
<line x1="790.3" y1="331.72" x2="797.7" y2="331.72" stroke="#444" stroke-width="1"/>
<text class="a" transform="translate(33.5 336.02) scale(0.94 1)" text-anchor="end">-4</text>
<text class="a" transform="translate(805.2 336.02) scale(0.94 1)">-4</text>
<line x1="39.2" y1="351.08" x2="46.6" y2="351.08" stroke="#1a1a1a" stroke-width="1"/>
<line x1="790.3" y1="351.08" x2="797.7" y2="351.08" stroke="#444" stroke-width="1"/>
<text class="a" transform="translate(33.5 355.38) scale(0.94 1)" text-anchor="end">-6</text>
<text class="a" transform="translate(805.2 355.38) scale(0.94 1)">-6</text>
<line x1="39.2" y1="370.44" x2="46.6" y2="370.44" stroke="#1a1a1a" stroke-width="1"/>
<line x1="790.3" y1="370.44" x2="797.7" y2="370.44" stroke="#444" stroke-width="1"/>
<text class="a" transform="translate(33.5 374.74) scale(0.94 1)" text-anchor="end">-8</text>
<text class="a" transform="translate(805.2 374.74) scale(0.94 1)">-8</text>
<line x1="39.2" y1="389.80" x2="46.6" y2="389.80" stroke="#1a1a1a" stroke-width="1"/>
<line x1="790.3" y1="389.80" x2="797.7" y2="389.80" stroke="#444" stroke-width="1"/>
<text class="a" transform="translate(33.5 394.10) scale(0.94 1)" text-anchor="end">-10</text>
<text class="a" transform="translate(805.2 394.10) scale(0.94 1)">-10</text>
<line x1="39.2" y1="409.16" x2="46.6" y2="409.16" stroke="#1a1a1a" stroke-width="1"/>
<line x1="790.3" y1="409.16" x2="797.7" y2="409.16" stroke="#444" stroke-width="1"/>
<text class="a" transform="translate(33.5 413.46) scale(0.94 1)" text-anchor="end">-12</text>
<text class="a" transform="translate(805.2 413.46) scale(0.94 1)">-12</text>
<text class="a" transform="translate(8.6 251.7) scale(0.94 1)">%</text>
<text class="a" transform="translate(819.4 251.7) scale(0.94 1)">%</text>
<line x1="61.68" y1="409.7" x2="61.68" y2="429.7" stroke="#333" stroke-width="1"/>
<line x1="80.45" y1="409.7" x2="80.45" y2="429.7" stroke="#333" stroke-width="1"/>
<line x1="99.23" y1="409.7" x2="99.23" y2="429.7" stroke="#333" stroke-width="1"/>
<line x1="118.01" y1="409.7" x2="118.01" y2="449.8" stroke="#555" stroke-width="1.1"/>
<line x1="136.79" y1="409.7" x2="136.79" y2="429.7" stroke="#333" stroke-width="1"/>
<line x1="155.56" y1="409.7" x2="155.56" y2="429.7" stroke="#333" stroke-width="1"/>
<line x1="174.34" y1="409.7" x2="174.34" y2="429.7" stroke="#333" stroke-width="1"/>
<line x1="193.12" y1="409.7" x2="193.12" y2="449.8" stroke="#555" stroke-width="1.1"/>
<line x1="211.90" y1="409.7" x2="211.90" y2="429.7" stroke="#333" stroke-width="1"/>
<line x1="230.68" y1="409.7" x2="230.68" y2="429.7" stroke="#333" stroke-width="1"/>
<line x1="249.45" y1="409.7" x2="249.45" y2="429.7" stroke="#333" stroke-width="1"/>
<line x1="268.23" y1="409.7" x2="268.23" y2="449.8" stroke="#555" stroke-width="1.1"/>
<line x1="287.01" y1="409.7" x2="287.01" y2="429.7" stroke="#333" stroke-width="1"/>
<line x1="305.78" y1="409.7" x2="305.78" y2="429.7" stroke="#333" stroke-width="1"/>
<line x1="324.56" y1="409.7" x2="324.56" y2="429.7" stroke="#333" stroke-width="1"/>
<line x1="343.34" y1="409.7" x2="343.34" y2="449.8" stroke="#555" stroke-width="1.1"/>
<line x1="362.12" y1="409.7" x2="362.12" y2="429.7" stroke="#333" stroke-width="1"/>
<line x1="380.89" y1="409.7" x2="380.89" y2="429.7" stroke="#333" stroke-width="1"/>
<line x1="399.67" y1="409.7" x2="399.67" y2="429.7" stroke="#333" stroke-width="1"/>
<line x1="418.45" y1="409.7" x2="418.45" y2="449.8" stroke="#555" stroke-width="1.1"/>
<line x1="437.23" y1="409.7" x2="437.23" y2="429.7" stroke="#333" stroke-width="1"/>
<line x1="456.00" y1="409.7" x2="456.00" y2="429.7" stroke="#333" stroke-width="1"/>
<line x1="474.78" y1="409.7" x2="474.78" y2="429.7" stroke="#333" stroke-width="1"/>
<line x1="493.56" y1="409.7" x2="493.56" y2="449.8" stroke="#555" stroke-width="1.1"/>
<line x1="512.34" y1="409.7" x2="512.34" y2="429.7" stroke="#333" stroke-width="1"/>
<line x1="531.12" y1="409.7" x2="531.12" y2="429.7" stroke="#333" stroke-width="1"/>
<line x1="549.89" y1="409.7" x2="549.89" y2="429.7" stroke="#333" stroke-width="1"/>
<line x1="568.67" y1="409.7" x2="568.67" y2="449.8" stroke="#555" stroke-width="1.1"/>
<line x1="587.45" y1="409.7" x2="587.45" y2="429.7" stroke="#333" stroke-width="1"/>
<line x1="606.23" y1="409.7" x2="606.23" y2="429.7" stroke="#333" stroke-width="1"/>
<line x1="625.00" y1="409.7" x2="625.00" y2="429.7" stroke="#333" stroke-width="1"/>
<line x1="643.78" y1="409.7" x2="643.78" y2="449.8" stroke="#555" stroke-width="1.1"/>
<line x1="662.56" y1="409.7" x2="662.56" y2="429.7" stroke="#333" stroke-width="1"/>
<line x1="681.33" y1="409.7" x2="681.33" y2="429.7" stroke="#333" stroke-width="1"/>
<line x1="700.11" y1="409.7" x2="700.11" y2="429.7" stroke="#333" stroke-width="1"/>
<line x1="718.89" y1="409.7" x2="718.89" y2="449.8" stroke="#555" stroke-width="1.1"/>
<line x1="737.67" y1="409.7" x2="737.67" y2="429.7" stroke="#333" stroke-width="1"/>
<line x1="756.44" y1="409.7" x2="756.44" y2="429.7" stroke="#333" stroke-width="1"/>
<line x1="775.22" y1="409.7" x2="775.22" y2="429.7" stroke="#333" stroke-width="1"/>
<text class="a" transform="translate(52.79 426.8) scale(0.93 1)" text-anchor="middle">I</text>
<text class="a" transform="translate(71.57 426.8) scale(0.93 1)" text-anchor="middle">II</text>
<text class="a" transform="translate(90.34 426.8) scale(0.93 1)" text-anchor="middle">III</text>
<text class="a" transform="translate(109.12 426.8) scale(0.93 1)" text-anchor="middle">IV</text>
<text class="a" transform="translate(127.90 426.8) scale(0.93 1)" text-anchor="middle">I</text>
<text class="a" transform="translate(146.68 426.8) scale(0.93 1)" text-anchor="middle">II</text>
<text class="a" transform="translate(165.45 426.8) scale(0.93 1)" text-anchor="middle">III</text>
<text class="a" transform="translate(184.23 426.8) scale(0.93 1)" text-anchor="middle">IV</text>
<text class="a" transform="translate(203.01 426.8) scale(0.93 1)" text-anchor="middle">I</text>
<text class="a" transform="translate(221.79 426.8) scale(0.93 1)" text-anchor="middle">II</text>
<text class="a" transform="translate(240.56 426.8) scale(0.93 1)" text-anchor="middle">III</text>
<text class="a" transform="translate(259.34 426.8) scale(0.93 1)" text-anchor="middle">IV</text>
<text class="a" transform="translate(278.12 426.8) scale(0.93 1)" text-anchor="middle">I</text>
<text class="a" transform="translate(296.90 426.8) scale(0.93 1)" text-anchor="middle">II</text>
<text class="a" transform="translate(315.67 426.8) scale(0.93 1)" text-anchor="middle">III</text>
<text class="a" transform="translate(334.45 426.8) scale(0.93 1)" text-anchor="middle">IV</text>
<text class="a" transform="translate(353.23 426.8) scale(0.93 1)" text-anchor="middle">I</text>
<text class="a" transform="translate(372.01 426.8) scale(0.93 1)" text-anchor="middle">II</text>
<text class="a" transform="translate(390.78 426.8) scale(0.93 1)" text-anchor="middle">III</text>
<text class="a" transform="translate(409.56 426.8) scale(0.93 1)" text-anchor="middle">IV</text>
<text class="a" transform="translate(428.34 426.8) scale(0.93 1)" text-anchor="middle">I</text>
<text class="a" transform="translate(447.12 426.8) scale(0.93 1)" text-anchor="middle">II</text>
<text class="a" transform="translate(465.89 426.8) scale(0.93 1)" text-anchor="middle">III</text>
<text class="a" transform="translate(484.67 426.8) scale(0.93 1)" text-anchor="middle">IV</text>
<text class="a" transform="translate(503.45 426.8) scale(0.93 1)" text-anchor="middle">I</text>
<text class="a" transform="translate(522.23 426.8) scale(0.93 1)" text-anchor="middle">II</text>
<text class="a" transform="translate(541.00 426.8) scale(0.93 1)" text-anchor="middle">III</text>
<text class="a" transform="translate(559.78 426.8) scale(0.93 1)" text-anchor="middle">IV</text>
<text class="a" transform="translate(578.56 426.8) scale(0.93 1)" text-anchor="middle">I</text>
<text class="a" transform="translate(597.34 426.8) scale(0.93 1)" text-anchor="middle">II</text>
<text class="a" transform="translate(616.11 426.8) scale(0.93 1)" text-anchor="middle">III</text>
<text class="a" transform="translate(634.89 426.8) scale(0.93 1)" text-anchor="middle">IV</text>
<text class="a" transform="translate(653.67 426.8) scale(0.93 1)" text-anchor="middle">I</text>
<text class="a" transform="translate(672.45 426.8) scale(0.93 1)" text-anchor="middle">II</text>
<text class="a" transform="translate(691.22 426.8) scale(0.93 1)" text-anchor="middle">III</text>
<text class="a" transform="translate(710.00 426.8) scale(0.93 1)" text-anchor="middle">IV</text>
<text class="a" transform="translate(728.78 426.8) scale(0.93 1)" text-anchor="middle">I</text>
<text class="a" transform="translate(747.56 426.8) scale(0.93 1)" text-anchor="middle">II</text>
<text class="a" transform="translate(766.33 426.8) scale(0.93 1)" text-anchor="middle">III</text>
<text class="a" transform="translate(785.11 426.8) scale(0.93 1)" text-anchor="middle">IV</text>
<text class="a" x="81.36" y="446.8" text-anchor="middle">2016</text>
<text class="a" x="156.47" y="446.8" text-anchor="middle">2017</text>
<text class="a" x="231.58" y="446.8" text-anchor="middle">2018</text>
<text class="a" x="306.68" y="446.8" text-anchor="middle">2019</text>
<text class="a" x="381.79" y="446.8" text-anchor="middle">2020</text>
<text class="a" x="456.90" y="446.8" text-anchor="middle">2021</text>
<text class="a" x="532.01" y="446.8" text-anchor="middle">2022</text>
<text class="a" x="607.12" y="446.8" text-anchor="middle">2023</text>
<text class="a" x="682.23" y="446.8" text-anchor="middle">2024</text>
<text class="a" x="757.34" y="446.8" text-anchor="middle">2025</text>
<polyline points="52.29,344.20 71.07,320.40 89.84,271.50 108.62,289.00 127.40,242.10 146.18,245.90 164.95,247.10 183.73,242.60 202.51,262.70 221.29,270.40 240.06,290.40 258.84,306.00 277.62,313.90 296.40,298.00 315.17,273.60 333.95,270.40 352.73,269.10 371.51,273.60 390.28,284.70 409.06,286.70 427.84,287.90 446.62,269.90 465.39,282.90 484.17,289.70 502.95,295.50 521.73,326.90 540.50,304.20 559.28,274.90 578.06,257.30 596.84,260.80 615.61,280.90 634.39,292.20 653.17,277.40 671.95,249.00 690.72,243.50 709.50,203.80 728.28,167.30 747.06,147.70 765.83,117.90 784.61,159.80" fill="none" stroke="#FF0000" stroke-width="2.6" stroke-linejoin="miter" stroke-miterlimit="3" stroke-linecap="round"/>
<text class="f" x="9.5" y="474.6" textLength="182.5" lengthAdjust="spacingAndGlyphs">Fonte: INE e BdP, Conta Financeira</text>
<text class="f" x="9.5" y="487.7" textLength="293.5" lengthAdjust="spacingAndGlyphs">Nota: Passivos da Economia Portuguesa - vis à vis com o</text>
<text class="f" x="9.5" y="500.8" textLength="316.8" lengthAdjust="spacingAndGlyphs">Resto do Mundo é igual aos activos da Conta do Resto Mundo</text>
<text class="g" x="386.4" y="500.7" textLength="67.2" lengthAdjust="spacingAndGlyphs" xml:space="preserve">(Gráfico:  DGE)</text>
</svg></body></html>
